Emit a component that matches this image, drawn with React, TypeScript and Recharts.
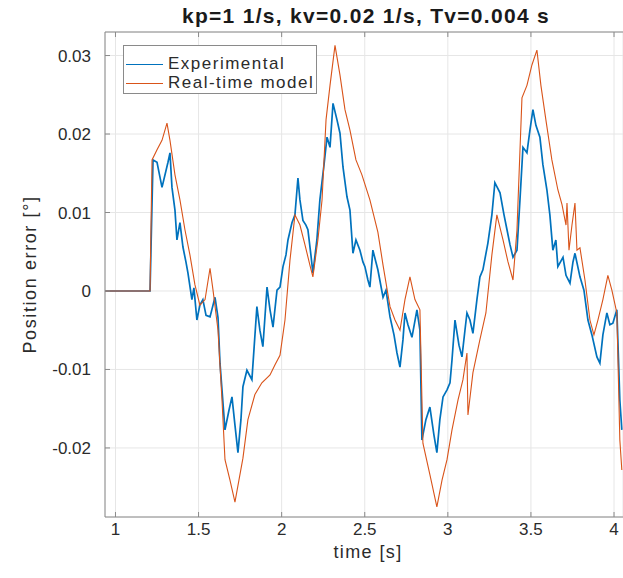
import { LineChart, Line, XAxis, YAxis, CartesianGrid, Label } from "recharts";

// Experimental position error, time [s] / error [deg]
const expTime = [
  0.937, 1.208, 1.226, 1.25, 1.28, 1.316, 1.328, 1.34, 1.358, 1.37, 1.388, 1.406, 1.424, 1.436, 1.46, 1.472,
  1.49, 1.508, 1.526, 1.545, 1.569, 1.599, 1.617, 1.629, 1.659, 1.683, 1.701, 1.719, 1.737, 1.755, 1.767,
  1.791, 1.821, 1.851, 1.869, 1.887, 1.912, 1.93, 1.948, 1.972, 1.99, 2.008, 2.026, 2.038, 2.062, 2.08,
  2.098, 2.11, 2.128, 2.146, 2.158, 2.176, 2.188, 2.212, 2.23, 2.255, 2.273, 2.291, 2.309, 2.333, 2.351,
  2.369, 2.393, 2.411, 2.429, 2.447, 2.471, 2.489, 2.501, 2.519, 2.531, 2.549, 2.567, 2.579, 2.61, 2.628,
  2.652, 2.676, 2.694, 2.712, 2.73, 2.742, 2.76, 2.784, 2.814, 2.832, 2.844, 2.868, 2.892, 2.916, 2.934,
  2.952, 2.971, 2.995, 3.013, 3.025, 3.043, 3.067, 3.085, 3.103, 3.115, 3.133, 3.151, 3.175, 3.193, 3.211,
  3.241, 3.265, 3.283, 3.314, 3.338, 3.356, 3.374, 3.392, 3.416, 3.434, 3.452, 3.476, 3.494, 3.512, 3.53,
  3.554, 3.572, 3.596, 3.614, 3.632, 3.65, 3.662, 3.693, 3.711, 3.735, 3.753, 3.765, 3.795, 3.819, 3.843,
  3.867, 3.897, 3.915, 3.933, 3.957, 3.975, 3.993, 4.017, 4.035, 4.047,
];
const expPos = [
  0, 0, 0.0167, 0.0164, 0.0132, 0.0164, 0.0176, 0.0132, 0.0103, 0.0065, 0.0087, 0.0056, 0.0037, 0.0023,
  -0.0011, 0.0004, -0.0037, -0.0018, -0.0011, -0.0031, -0.0033, -0.0008, -0.0034, -0.0092, -0.0177, -0.0152,
  -0.0135, -0.0171, -0.0206, -0.0164, -0.0122, -0.0101, -0.0113, -0.002, -0.005, -0.0071, 0.0005, -0.0024,
  -0.0046, 0.0001, 0.0005, 0.0031, 0.0046, 0.0065, 0.0087, 0.0097, 0.0144, 0.0116, 0.009, 0.0084, 0.0078,
  0.0046, 0.0023, 0.0065, 0.0116, 0.0161, 0.0196, 0.0183, 0.0239, 0.0218, 0.0201, 0.0158, 0.012, 0.0103,
  0.0048, 0.0065, 0.0052, 0.0037, 0.0031, 0.0014, 0.0005, 0.0052, 0.0037, 0.0027, -0.0008, 0.0001, -0.0033,
  -0.0056, -0.0079, -0.0097, -0.0062, -0.0028, -0.0043, -0.0059, -0.0024, -0.005, -0.019, -0.0164, -0.0148,
  -0.0183, -0.0206, -0.0164, -0.0135, -0.0126, -0.0117, -0.0088, -0.0037, -0.0069, -0.0084, -0.005, -0.0028,
  -0.0037, -0.0054, -0.0011, 0.0018, 0.0027, 0.0061, 0.0097, 0.0138, 0.0125, 0.0097, 0.0078, 0.0059, 0.0043,
  0.0052, 0.0116, 0.0183, 0.0176, 0.0205, 0.0231, 0.0211, 0.0196, 0.0161, 0.0129, 0.0097, 0.0052, 0.0065,
  0.0031, 0.0043, 0.002, 0.001, 0.0037, 0.0048, 0.0018, 0.0001, -0.0037, -0.0056, -0.0084, -0.0092, -0.0056,
  -0.0028, -0.0043, -0.0041, -0.0024, -0.0139, -0.0177,
];

// Real-time model
const modelTime = [
  0.937, 1.208, 1.22, 1.25, 1.28, 1.31, 1.328, 1.358, 1.388, 1.418, 1.448, 1.478, 1.508, 1.539, 1.569, 1.587,
  1.617, 1.641, 1.659, 1.689, 1.719, 1.743, 1.767, 1.797, 1.839, 1.881, 1.93, 1.96, 1.99, 2.02, 2.05, 2.08,
  2.11, 2.14, 2.17, 2.188, 2.218, 2.243, 2.267, 2.291, 2.321, 2.351, 2.381, 2.411, 2.447, 2.483, 2.531, 2.579,
  2.61, 2.652, 2.682, 2.712, 2.742, 2.772, 2.802, 2.832, 2.85, 2.892, 2.934, 2.965, 2.995, 3.025, 3.061,
  3.091, 3.115, 3.121, 3.151, 3.193, 3.229, 3.265, 3.295, 3.332, 3.362, 3.392, 3.416, 3.446, 3.476, 3.506,
  3.536, 3.56, 3.59, 3.626, 3.662, 3.687, 3.711, 3.717, 3.729, 3.747, 3.765, 3.777, 3.795, 3.825, 3.855,
  3.879, 3.903, 3.933, 3.963, 3.987, 4.017, 4.035, 4.047,
];
const modelPos = [
  0, 0, 0.0167, 0.018, 0.0192, 0.0214, 0.0192, 0.0148, 0.0116, 0.0078, 0.0046, 0.0008, -0.0018, -0.0011,
  0.0029, 0.0001, -0.005, -0.0139, -0.0215, -0.0241, -0.0269, -0.0241, -0.0213, -0.0164, -0.0132, -0.0117,
  -0.0107, -0.0094, -0.0082, -0.0037, 0.0039, 0.0097, 0.0084, 0.0059, 0.0033, 0.0018, 0.0065, 0.0116, 0.0218,
  0.0262, 0.0313, 0.0275, 0.0231, 0.0205, 0.0167, 0.0148, 0.0116, 0.0075, 0.0033, -0.002, -0.0037, -0.005,
  -0.0011, 0.0018, -0.0011, -0.0024, -0.0194, -0.0234, -0.0275, -0.0241, -0.0215, -0.0177, -0.0139, -0.0113,
  -0.0079, -0.0158, -0.0104, -0.0062, -0.0028, 0.0046, 0.0097, 0.0065, 0.0037, 0.0014, 0.0078, 0.0246,
  0.0262, 0.0288, 0.0307, 0.0262, 0.0218, 0.0167, 0.0129, 0.011, 0.0084, 0.0112, 0.0052, 0.0084, 0.0112,
  0.0052, 0.0055, 0.0014, -0.0037, -0.0056, -0.0037, -0.0011, 0.002, 0.0001, -0.0028, -0.019, -0.0228,
];

const xTicks = [1, 1.5, 2, 2.5, 3, 3.5, 4];
const yTicks = [-0.02, -0.01, 0, 0.01, 0.02, 0.03];
const seriesNames = ["Experimental", "Real-time model"];
const seriesColors = ["#0072BD", "#D95319"];
const title = "kp=1 1/s, kv=0.02 1/s, Tv=0.004 s";

const expData = expTime.map((t, i) => ({ t, v: expPos[i] }));
const modelData = modelTime.map((t, i) => ({ t, v: modelPos[i] }));

const FONT = "'Liberation Sans', Arial, sans-serif";
const axisColor = "#8a8a8a";
const textColor = "#2b2b2b";

function YLabel(props: any) {
  const vb = props.viewBox;
  const cy = vb.y + vb.height / 2;
  return (
    <text
      x={31}
      y={cy}
      transform={`rotate(-90, 31, ${cy})`}
      textAnchor="middle"
      dominantBaseline="middle"
      fontSize={18}
      letterSpacing={1.6}
      fill={textColor}
      fontFamily={FONT}
    >
      Position error [°]
    </text>
  );
}

export default function App() {
  return (
    <div style={{ position: "absolute", left: 0, top: 0, width: 623, height: 578, background: "#fff" }}>
      <LineChart width={623} height={578} margin={{ top: 31, right: 0, bottom: 0, left: 0 }} style={{ fontFamily: FONT }}>
        <CartesianGrid stroke="#e6e6e6" />
        <XAxis
          dataKey="t"
          type="number"
          domain={[0.937, 4.054]}
          allowDataOverflow
          ticks={xTicks}
          height={61}
          tickSize={-5}
          tickMargin={11}
          stroke={axisColor}
          tick={{ fill: textColor, fontSize: 17 }}
        >
          <Label value="time [s]" position="insideBottom" offset={20} dx={4} fontSize={18} letterSpacing={1.4} fill={textColor} />
        </XAxis>
        <XAxis
          xAxisId="top"
          orientation="top"
          dataKey="t"
          type="number"
          domain={[0.937, 4.054]}
          allowDataOverflow
          ticks={xTicks}
          height={1}
          tickSize={-5}
          tickFormatter={() => ""}
          stroke={axisColor}
        />
        <YAxis
          type="number"
          domain={[-0.0288, 0.033]}
          allowDataOverflow
          ticks={yTicks}
          width={105}
          tickSize={-5}
          tickMargin={19}
          stroke={axisColor}
          tick={{ fill: textColor, fontSize: 17 }}
        >
          <Label content={<YLabel />} />
        </YAxis>
        <Line data={expData} dataKey="v" name={seriesNames[0]} stroke={seriesColors[0]} strokeWidth={1.7} dot={false} isAnimationActive={false} />
        <Line data={modelData} dataKey="v" name={seriesNames[1]} stroke={seriesColors[1]} strokeWidth={1.1} dot={false} isAnimationActive={false} />
      </LineChart>
      <div
        style={{
          position: "absolute",
          left: 166,
          top: 4,
          width: 400,
          textAlign: "center",
          fontFamily: FONT,
          fontSize: 21,
          fontWeight: "bold",
          letterSpacing: 1.3,
          color: "#1a1a1a",
          whiteSpace: "nowrap",
        }}
      >
        {title}
      </div>
      <div
        style={{
          position: "absolute",
          left: 123,
          top: 45,
          width: 194,
          height: 49,
          boxSizing: "border-box",
          border: "1px solid #8a8a8a",
          background: "#fff",
          fontFamily: FONT,
          fontSize: 17,
          letterSpacing: 1.5,
          color: textColor,
        }}
      >
        {seriesNames.map((name, i) => (
          <div key={name} style={{ position: "absolute", left: 0, top: 8 + i * 19, height: 20, display: "flex", alignItems: "center", whiteSpace: "nowrap" }}>
            <div style={{ width: 37, height: 0, borderTop: `1.2px solid ${seriesColors[i]}`, marginLeft: 2, marginRight: 5 }} />
            <span>{name}</span>
          </div>
        ))}
      </div>
    </div>
  );
}
